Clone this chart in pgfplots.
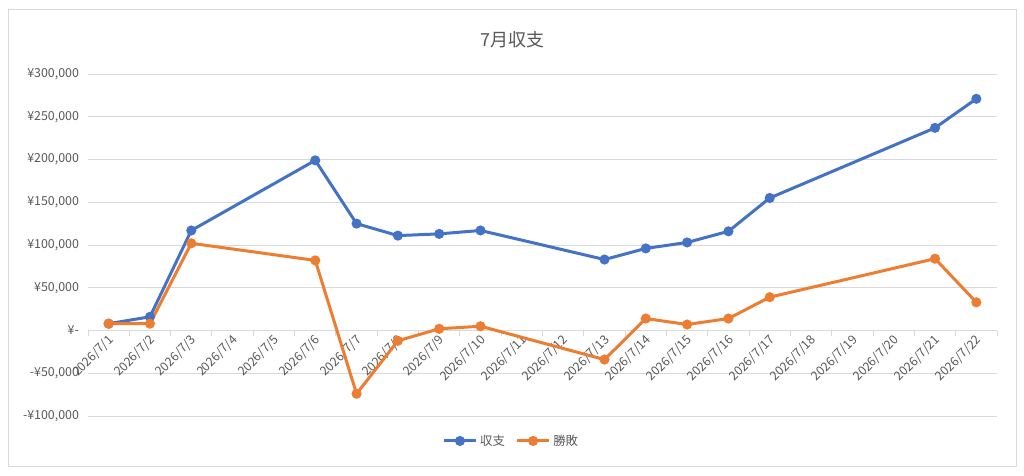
\documentclass[border=0pt]{standalone}
\usepackage{pgfplots}
\pgfplotsset{compat=1.18}
\usepackage{fontspec}
\setmainfont{Noto Sans CJK JP}
\definecolor{sBlue}{HTML}{4472C4}
\definecolor{sOrange}{HTML}{ED7D31}
\definecolor{gridc}{HTML}{D9D9D9}
\definecolor{txt}{HTML}{595959}
\begin{document}
\begin{tikzpicture}
\path[fill=white] (0pt,0pt) rectangle (768pt,356.25pt);
\draw[gridc, line width=0.75pt] (6pt,6.75pt) rectangle (762pt,348.75pt);
\node[text=txt, font=\fontsize{13.5pt}{16pt}\selectfont] at (384pt,326.25pt) {7月収支};
\begin{axis}[
  at={(66pt,44.25pt)}, anchor=south west,
  scale only axis, width=681.75pt, height=256.5pt,
  xmin=0.5, xmax=22.5, ymin=-100000, ymax=300000,
  scaled y ticks=false,
  axis x line=middle, axis y line=left,
  x axis line style={draw=gridc, line width=0.75pt, -},
  y axis line style={draw=none},
  hide obscured y ticks=false, hide obscured x ticks=false,
  ytick={-100000,-50000,0,50000,100000,150000,200000,250000,300000},
  yticklabels={{-¥100,000},{-¥50,000},{¥-},{¥50,000},{¥100,000},{¥150,000},{¥200,000},{¥250,000},{¥300,000}},
  xtick={1,...,22},
  xticklabels={2026/7/1,2026/7/2,2026/7/3,2026/7/4,2026/7/5,2026/7/6,2026/7/7,2026/7/8,2026/7/9,2026/7/10,2026/7/11,2026/7/12,2026/7/13,2026/7/14,2026/7/15,2026/7/16,2026/7/17,2026/7/18,2026/7/19,2026/7/20,2026/7/21,2026/7/22},
  minor xtick={0.5,1.5,...,22.5},
  major x tick style={draw=none},
  ytick style={draw=none},
  minor x tick style={draw=gridc, line width=0.75pt},
  minor tick length=3.75pt,
  tick align=outside,
  ymajorgrids, major grid style={draw=gridc, line width=0.75pt},
  ticklabel style={font=\fontsize{9.3pt}{11pt}\selectfont, text=txt},
  xticklabel style={rotate=45, anchor=east, xshift=4pt, yshift=-2.5pt},
  yticklabel style={anchor=east, xshift=1pt},
  legend style={at={(0.466,-0.073)}, anchor=center, draw=none, legend columns=2,
    font=\fontsize{9.3pt}{11pt}\selectfont, text=txt,
    /tikz/every even column/.append style={column sep=6pt}},
  legend image code/.code={\draw[mark repeat=2,mark phase=2,#1] plot coordinates {(0pt,0pt) (12pt,0pt) (24pt,0pt)};},
  legend cell align=left,
]
\addplot[sBlue, line width=2.25pt, mark=*, mark size=2.6pt] coordinates {
(1,8000)(2,16000)(3,117000)(6,199000)(7,125000)(8,111000)(9,113000)(10,117000)(13,83000)(14,96000)(15,103000)(16,116000)(17,155000)(21,237000)(22,271000)};
\addlegendentry{収支}
\addplot[sOrange, line width=2.25pt, mark=*, mark size=2.6pt] coordinates {
(1,8000)(2,8000)(3,102000)(6,82000)(7,-74000)(8,-12000)(9,2000)(10,5000)(13,-34000)(14,14000)(15,7000)(16,14000)(17,39000)(21,84000)(22,33000)};
\addlegendentry{勝敗}
\end{axis}
\end{tikzpicture}
\end{document}
